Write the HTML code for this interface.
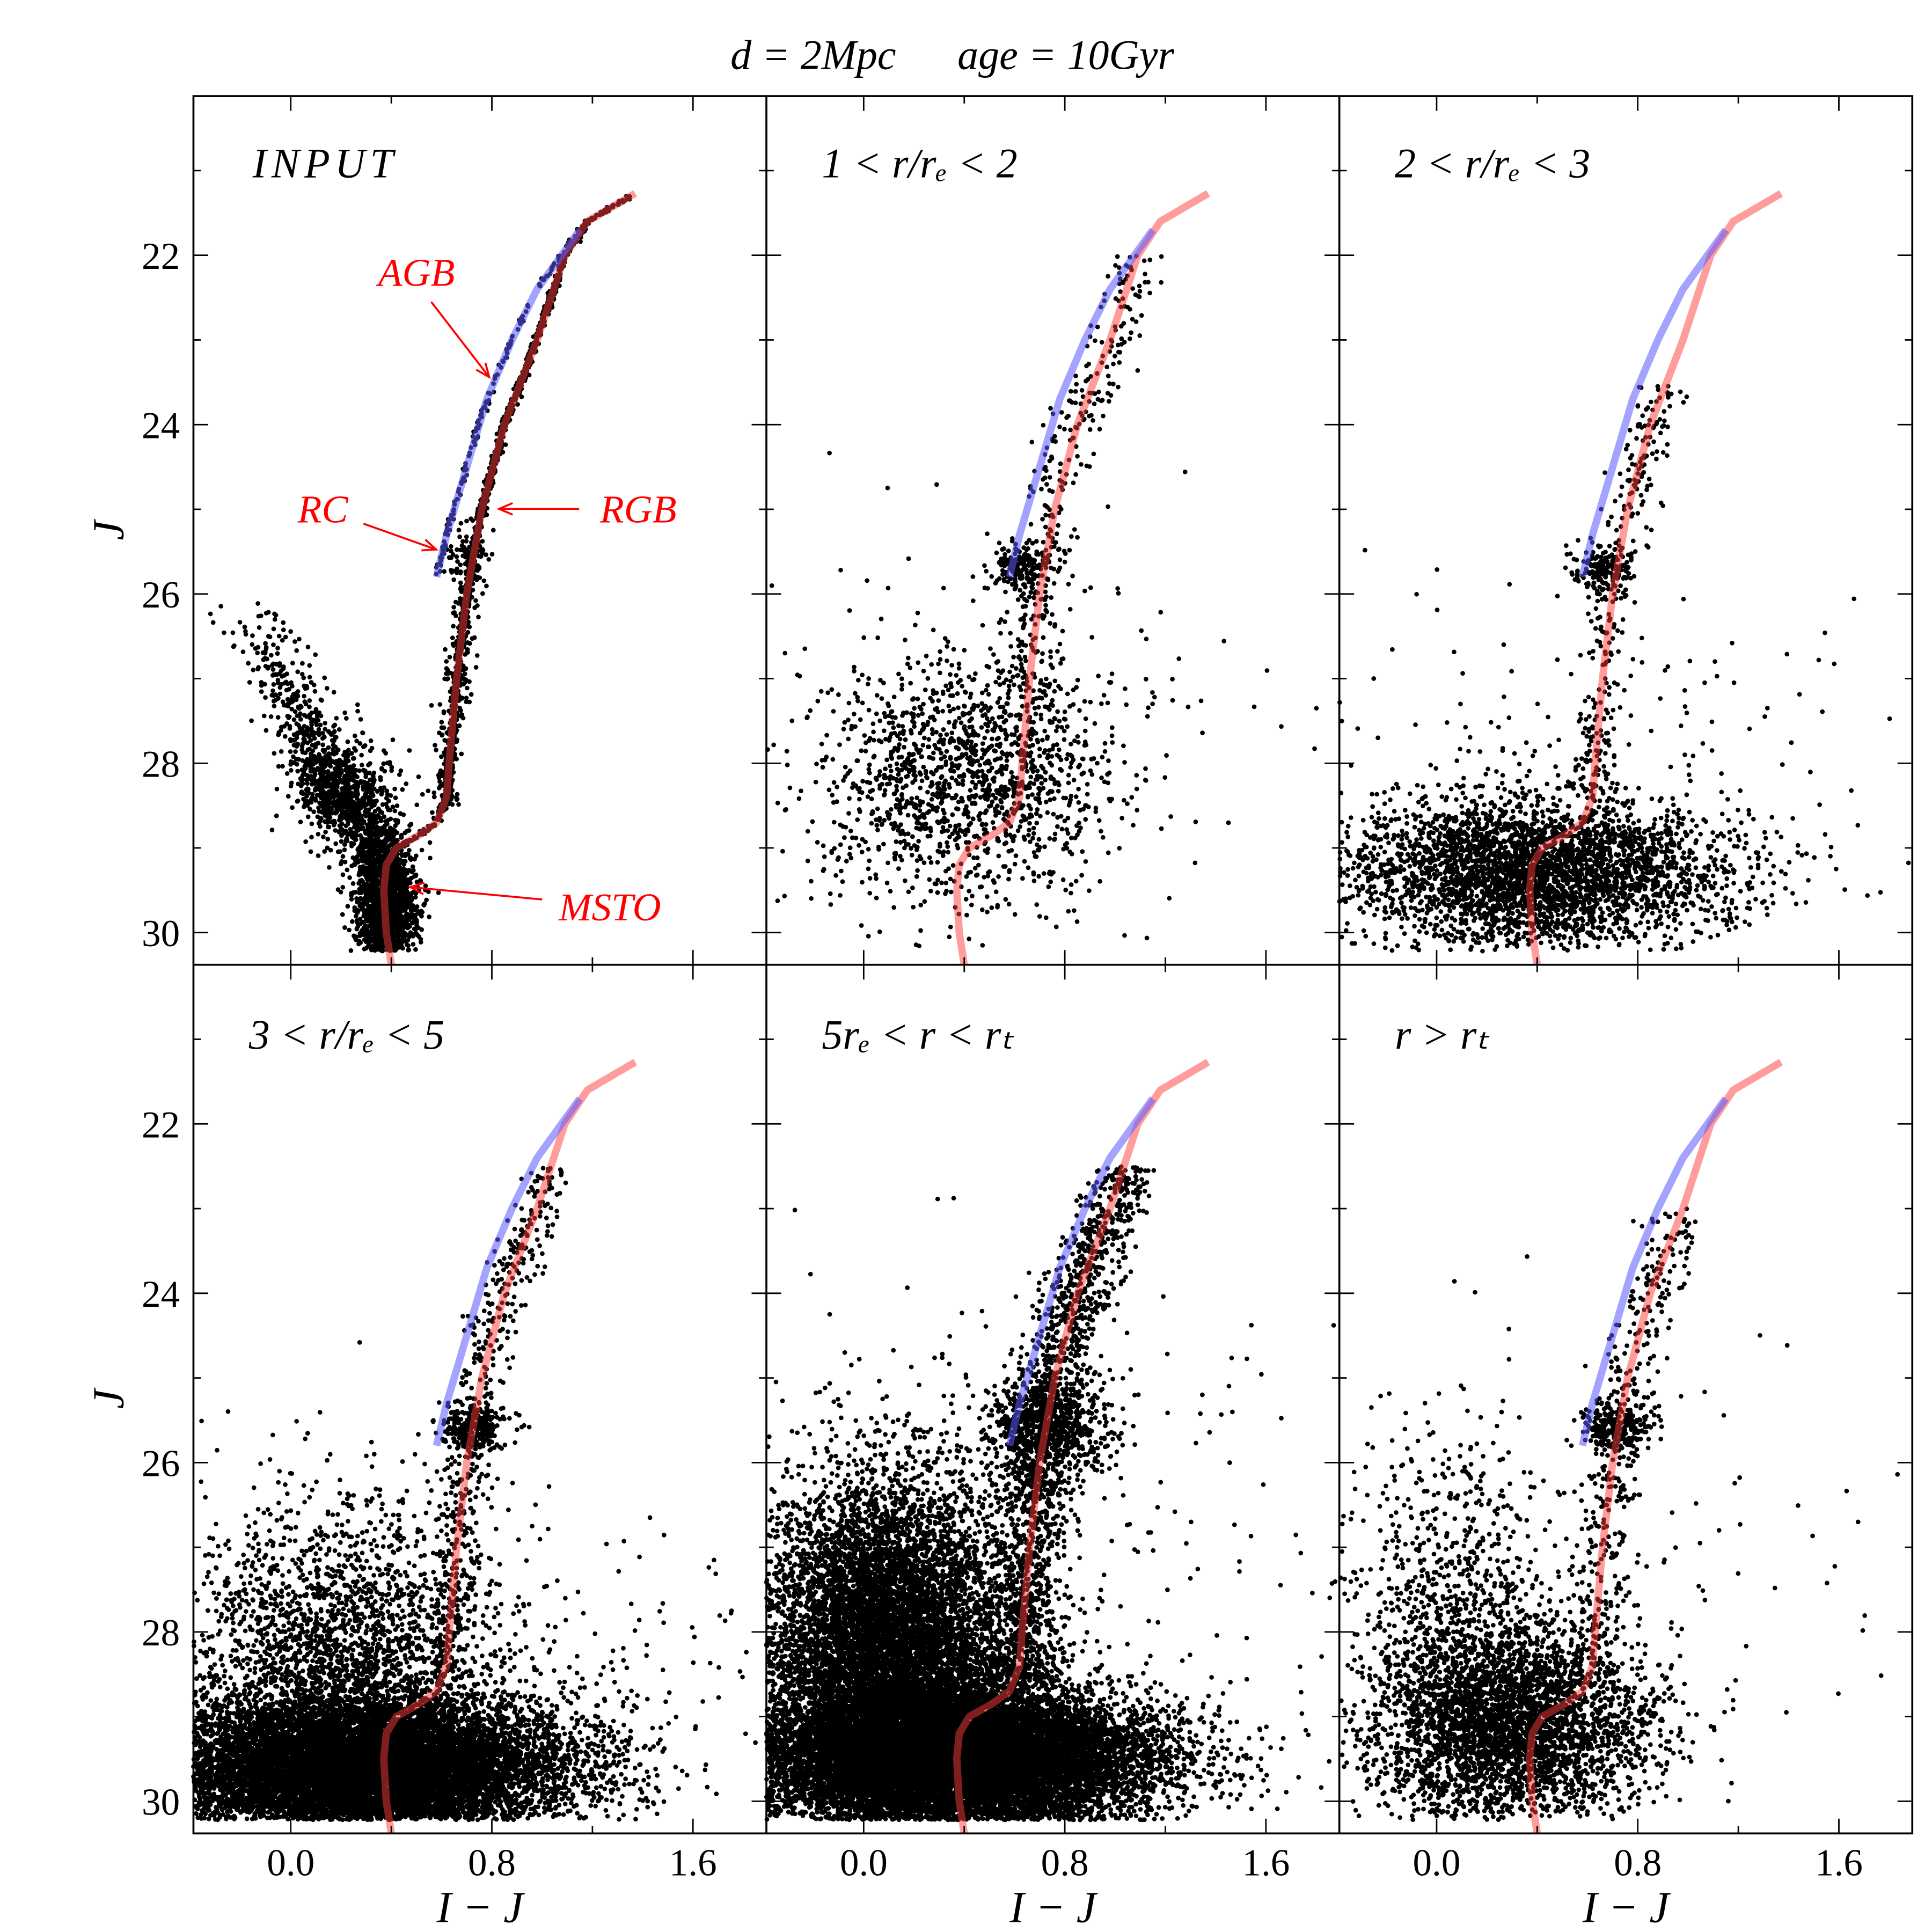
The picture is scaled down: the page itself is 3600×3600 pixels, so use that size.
<!DOCTYPE html>
<html><head><meta charset="utf-8"><style>
html,body{margin:0;padding:0;background:#fff}
svg{display:block}
text{font-family:"Liberation Serif",serif;fill:#000}
</style></head><body>
<svg id="fig" width="3600" height="3600" viewBox="0 0 1568 1568" xmlns="http://www.w3.org/2000/svg">
<text x="660" y="56" font-size="34" text-anchor="middle" font-style="italic">d = 2Mpc</text>
<text x="865" y="56" font-size="34" text-anchor="middle" font-style="italic">age = 10Gyr</text>
<g id="panels"></g>
<g id="frame"></g>
</svg>
<script>
// ---- data ----
const isoColor = [0.40,0.38,0.37,0.38,0.42,0.51,0.58,0.62,0.63,0.66,0.70,0.76,0.85,0.98,1.09,1.18,1.37];
const isoJ     = [30.38,30.0,29.5,29.2,29.0,28.85,28.7,28.4,28.0,27.0,26.0,25.0,24.0,23.0,22.0,21.6,21.27];
const agbColor = [0.58,0.62,0.70,0.78,0.88,0.98,1.15];
const agbJ     = [25.8,25.3,24.5,23.7,23.0,22.4,21.7];
const xTicks = [0.0,0.8,1.6];
const xTickLabels = ["0.0","0.8","1.6"];
const yTicks = [22,24,26,28,30];
const yTickLabels = ["22","24","26","28","30"];
const panelLabels = ["INPUT","1 < r/r\u2091 < 2","2 < r/r\u2091 < 3","3 < r/r\u2091 < 5","5r\u2091 < r < r\u209c","r > r\u209c"];
// star-cloud estimates per panel: [colorCenter, JCenter, colorSigma, JSigma, count]
const clouds1 = [[0.38,29.7,0.06,0.4,1600],[0.68,25.6,0.04,0.15,60],[0.2,28.3,0.1,0.3,500]];
const clouds2 = [[0.42,28.2,0.3,0.7,1500],[0.62,25.7,0.06,0.14,180],[0.6,27.2,0.6,1.4,80]];
const clouds3 = [[0.4,29.3,0.38,0.45,3600],[0.65,25.7,0.06,0.13,150],[0.6,28.0,0.7,1.2,150]];
const clouds4 = [[0.3,29.6,0.4,0.42,12000],[0.2,28.2,0.3,0.9,2200],[0.72,25.6,0.07,0.15,250],[0.6,28.5,0.7,1.0,300]];
const clouds5 = [[0.1,28.2,0.25,1.0,9000],[0.35,29.5,0.4,0.42,14000],[0.72,25.6,0.12,0.3,700],[0.5,27.0,0.8,1.5,300]];
const clouds6 = [[0.3,29.1,0.28,0.6,3600],[0.05,27.6,0.2,1.0,700],[0.72,25.6,0.07,0.15,250],[0.6,27.5,0.7,1.4,120]];
// star sequences drawn along the isochrone: [Jmin, Jmax, colorSigma, count]
const seq1 = [[21.3,30.3,0.008,1500],[25.0,28.6,0.03,300]];
const seq2 = [[22.0,27.5,0.06,350]];
const seq3 = [[23.5,28.5,0.05,300]];
const seq4 = [[22.5,28.6,0.05,500]];
const seq5 = [[22.5,28.6,0.07,1600]];
const seq6 = [[23.0,28.5,0.06,400]];
// MS turnoff branch of input panel: [color, J]
const msBranchC = [-0.22,-0.1,0.0,0.1,0.2,0.3,0.35];
const msBranchJ = [26.0,26.6,27.2,27.9,28.4,28.8,29.2];
const allClouds=[clouds1,clouds2,clouds3,clouds4,clouds5,clouds6];
const allSeq=[seq1,seq2,seq3,seq4,seq5,seq6];
// ---- layout ----
const X0=[157,622,1087], PW=465, Y0=[78,783], PH=705;
const xmin=-0.387,xmax=1.892,ymin=20.12,ymax=30.38;
const NS="http://www.w3.org/2000/svg";
function mk(t,a,p){const e=document.createElementNS(NS,t);for(const k in a)e.setAttribute(k,a[k]);p.appendChild(e);return e;}
let seed=12345;function rnd(){seed|=0;seed=seed+0x6D2B79F5|0;let t=Math.imul(seed^seed>>>15,1|seed);t=t+Math.imul(t^t>>>7,61|t)^t;return((t^t>>>14)>>>0)/4294967296;}
function gau(){let u=rnd()||1e-9,v=rnd();return Math.sqrt(-2*Math.log(u))*Math.cos(2*Math.PI*v);}
function interpC(J,cs,js){for(let i=0;i<js.length-1;i++){const a=js[i],b=js[i+1];if((J<=a&&J>=b)||(J>=a&&J<=b)){const t=(J-a)/(b-a);return cs[i]+t*(cs[i+1]-cs[i]);}}return cs[cs.length-1];}
const panels=document.getElementById('panels'), frame=document.getElementById('frame');
const R=1.9;
for(let p=0;p<6;p++){
  const col=p%3,row=Math.floor(p/3),ox=X0[col],oy=Y0[row];
  const sx=c=>ox+(c-xmin)/(xmax-xmin)*PW, sy=j=>oy+(j-ymin)/(ymax-ymin)*PH;
  const g=mk('g',{},panels);
  
  
  let d='';
  function add(c,j){if(j>30.22||j<ymin||c<xmin||c>xmax)return;const x=sx(c),y=sy(j);d+='M'+(x-R).toFixed(1)+' '+y.toFixed(1)+'a'+R+' '+R+' 0 1 0 '+(2*R)+' 0a'+R+' '+R+' 0 1 0 '+(-2*R)+' 0';}
  for(const cl of allClouds[p]){for(let i=0;i<cl[4];i++)add(cl[0]+cl[2]*gau(),cl[1]+cl[3]*gau());}
  for(const s of allSeq[p]){for(let i=0;i<s[3];i++){const J=s[0]+(s[1]-s[0])*rnd();add(interpC(J,isoColor,isoJ)+s[2]*gau(),J);}}
  if(p===0){for(let i=0;i<800;i++){const J=26+3.2*Math.sqrt(rnd());add(interpC(J,msBranchC,msBranchJ)+0.07*gau(),J);}
    for(let i=0;i<150;i++){const J=21.8+4*rnd();add(interpC(J,agbColor,agbJ)+0.006*gau(),J);}}
  const dots=mk('path',{d:d,fill:'#000'},g);
  
  
  let rp='';isoColor.forEach((c,i)=>{rp+=(i?'L':'M')+sx(c).toFixed(1)+' '+sy(isoJ[i]).toFixed(1);});
  const rl=mk('path',{d:rp,fill:'none',stroke:'rgba(255,60,60,0.5)','stroke-width':6,'stroke-linejoin':'round'},g);
  
  
  let bp='';agbColor.forEach((c,i)=>{bp+=(i?'L':'M')+sx(c).toFixed(1)+' '+sy(agbJ[i]).toFixed(1);});
  const bl=mk('path',{d:bp,fill:'none',stroke:'rgba(90,90,255,0.55)','stroke-width':6,'stroke-linejoin':'round'},g);
  
  
  for(let v=-0.4;v<=1.9;v+=0.4){const x=sx(v);if(x<ox+1||x>ox+PW-1)continue;const big=Math.abs(v/0.8-Math.round(v/0.8))<1e-6;const L=big?12:6;
    mk('line',{x1:x,y1:oy+PH,x2:x,y2:oy+PH-L,stroke:'#000','stroke-width':1.2},frame);mk('line',{x1:x,y1:oy,x2:x,y2:oy+L,stroke:'#000','stroke-width':1.2},frame);}
  for(let v=21;v<=30;v+=1){const y=sy(v);const L=v%2===0?12:6;
    mk('line',{x1:ox,y1:y,x2:ox+L,y2:y,stroke:'#000','stroke-width':1.2},frame);mk('line',{x1:ox+PW,y1:y,x2:ox+PW-L,y2:y,stroke:'#000','stroke-width':1.2},frame);}
  if(row===1){xTicks.forEach((v,i)=>{const t=mk('text',{x:sx(v),y:1522,'font-size':31,'text-anchor':'middle'},frame);t.textContent=xTickLabels[i];
    
    });
    const xl=mk('text',{x:ox+PW/2,y:1560,'font-size':36,'text-anchor':'middle','font-style':'italic'},frame);xl.textContent='I \u2212 J';
    
    }
  if(col===0){yTicks.forEach((v,i)=>{const t=mk('text',{x:146,y:sy(v)+11,'font-size':31,'text-anchor':'end'},frame);t.textContent=yTickLabels[i];
    
    });
    const yl=mk('text',{x:100,y:oy+PH*0.5,'font-size':36,'text-anchor':'middle','font-style':'italic',transform:'rotate(-90 100 '+(oy+PH*0.5)+')'},frame);yl.textContent='J';
    
    }
  const lb=mk('text',{x:ox+(p===0?48:45),y:oy+(row===0?66:68),'font-size':34,'font-style':'italic','letter-spacing':p===0?4:0},frame);lb.textContent=panelLabels[p];
  
  
}
mk('rect',{x:157,y:78,width:1395,height:1410,fill:'none',stroke:'#000','stroke-width':1.6},frame);
mk('line',{x1:622,y1:78,x2:622,y2:1488,stroke:'#000','stroke-width':1.6},frame);
mk('line',{x1:1087,y1:78,x2:1087,y2:1488,stroke:'#000','stroke-width':1.6},frame);
mk('line',{x1:157,y1:783,x2:1552,y2:783,stroke:'#000','stroke-width':1.6},frame);
const ann=[["AGB",338,232,350,245,397,306],["RC",262,424,295,425,354,446],["RGB",518,424,470,413,405,413],["MSTO",495,747,440,730,333,720]];
ann.forEach(a=>{const t=mk('text',{x:a[1],y:a[2],'font-size':32,'font-style':'italic','text-anchor':'middle',style:'fill:#f00'},frame);t.textContent=a[0];
  
  
  mk('line',{x1:a[3],y1:a[4],x2:a[5],y2:a[6],stroke:'#f00','stroke-width':1.6},frame);
  const ang=Math.atan2(a[6]-a[4],a[5]-a[3]),L=12;
  const p1=[a[5]-L*Math.cos(ang-0.4),a[6]-L*Math.sin(ang-0.4)],p2=[a[5]-L*Math.cos(ang+0.4),a[6]-L*Math.sin(ang+0.4)];
  mk('path',{d:`M${p1[0]} ${p1[1]}L${a[5]} ${a[6]}L${p2[0]} ${p2[1]}`,fill:'none',stroke:'#f00','stroke-width':1.6},frame);});
</script>
</body></html>
